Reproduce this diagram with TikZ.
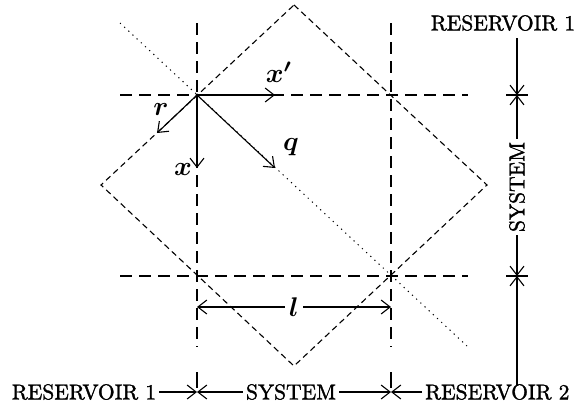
\RequirePackage{fix-cm}
\documentclass[tikz,border=0pt]{standalone}
\usepackage{fontspec}
\newfontfamily\heavyrm{lmroman10-regular.otf}[FakeBold=1.5]
\usetikzlibrary{arrows.meta}
\newcommand{\mlab}[1]{\scalebox{2.7}{\boldmath$#1$}}
\begin{document}
\begin{tikzpicture}[x=1pt,y=-1pt,
  grid/.style={line width=1.1pt,dash pattern=on 12pt off 7pt},
  diam/.style={line width=1.1pt,dash pattern=on 6pt off 4pt},
  dotl/.style={line width=1pt,dash pattern=on 1.2pt off 4.5pt},
  arr/.style={line width=1.1pt,-{Straight Barb[length=9pt,width=14pt,line width=1.1pt]}},
  tick/.style={line width=1.1pt},
  lbl/.style={font=\heavyrm\fontsize{21.5}{26}\selectfont,inner sep=3pt},
  mlbl/.style={inner sep=1pt}]
\useasboundingbox (0,0) rectangle (582,408);
% key points
\coordinate (O) at (197,95);
\coordinate (A) at (391,95);
\coordinate (B) at (197,276);
\coordinate (C) at (391,276);
% diamond vertices
\coordinate (T) at (294,5);
\coordinate (R) at (487,185);
\coordinate (Bt) at (294,366);
\coordinate (L) at (101,185);
% grid line ends
\coordinate (v1t) at (197,23); \coordinate (v1b) at (197,347);
\coordinate (v2t) at (391,23); \coordinate (v2b) at (391,347);
\coordinate (h1l) at (120,95); \coordinate (h1r) at (468,95);
\coordinate (h2l) at (120,276); \coordinate (h2r) at (468,276);
\coordinate (d1) at (120,23); \coordinate (d2) at (467,346);
% grid
\draw[grid] (v1t) -- (v1b);
\draw[grid] (v2t) -- (v2b);
\draw[grid] (h1l) -- (h1r);
\draw[grid] (h2l) -- (h2r);
% diamond
\draw[diam] (T) -- (R) -- (Bt) -- (L) -- cycle;
% dotted diagonal
\draw[dotl] (d1) -- (d2);
% arrows from O
\coordinate (xp) at (275,95);
\coordinate (xd) at (197,168);
\coordinate (rr) at (157,133);
\coordinate (qq) at (275,168);
\fill (O) circle (1.6pt);
\draw[arr] (O) -- (xp);
\draw[arr] (O) -- (xd);
\draw[arr] (O) -- (rr);
\draw[arr] (O) -- (qq);
\node[mlbl] (lxp) at (279,72) {\mlab{x'}};
\node[mlbl] (lr) at (161,109) {\mlab{r}};
\node[mlbl] (lx) at (183,169) {\mlab{x}};
\node[mlbl] (lq) at (291,147) {\mlab{q}};
% dimension l
\node[mlbl,inner sep=4pt] (ll) at (294,307) {\mlab{l}};
\coordinate (l1) at (197,307); \coordinate (l2) at (391,307);
\draw[arr] (ll) -- (l1);
\draw[arr] (ll) -- (l2);
% right scale
\node[lbl] (res1t) at (503,23) {RESERVOIR 1};
\node[lbl,rotate=90] (syst) at (517,187) {SYSTEM};
\coordinate (rt1) at (517,95); \coordinate (rt2) at (517,276);
\coordinate (rbot) at (517,386);
\coordinate (rtop) at (517,38);
\draw[tick] (506,95) -- (528,95);
\draw[tick] (506,276) -- (528,276);
\draw[arr] (rtop) -- (rt1);
\draw[arr] (syst.east) -- (rt1);
\draw[arr] (syst.west) -- (rt2);
\draw[arr] (rbot) -- (rt2);
% bottom scale
\node[lbl] (res1b) at (84,392) {RESERVOIR 1};
\node[lbl] (sysb) at (291,392) {SYSTEM};
\node[lbl,anchor=west] (res2b) at (422,392) {RESERVOIR 2};
\coordinate (bt1) at (197,392); \coordinate (bt2) at (391,392);
\draw[tick] (197,372) -- (197,388);
\draw[tick] (391,372) -- (391,388);
\draw[arr] (res1b.east) -- (bt1);
\draw[arr] (sysb.west) -- (bt1);
\draw[arr] (sysb.east) -- (bt2);
\draw[arr] (res2b.west) -- (bt2);
\end{tikzpicture}
\end{document}
